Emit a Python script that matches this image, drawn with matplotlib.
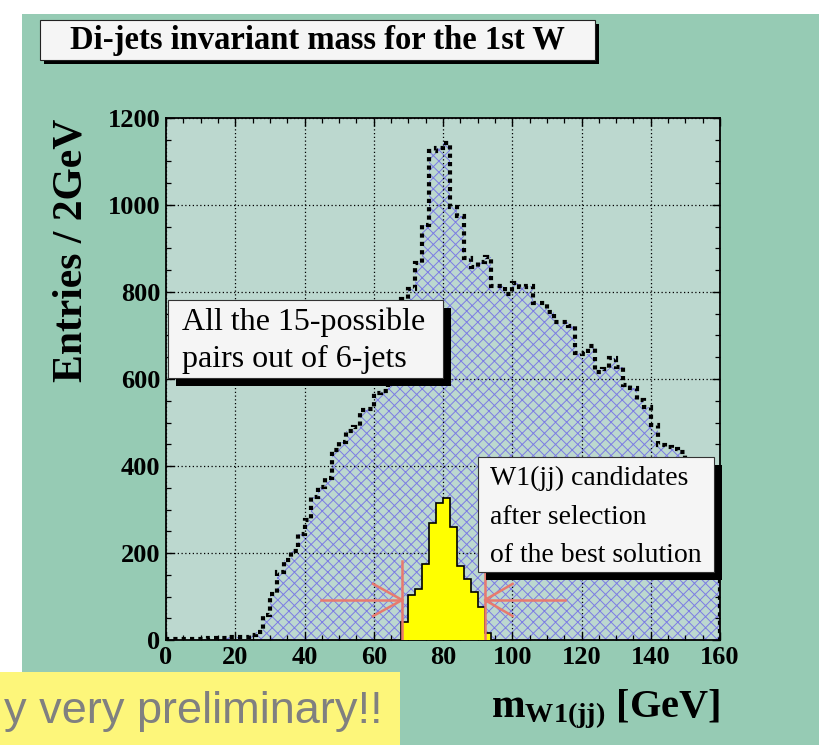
import numpy as np
import matplotlib
matplotlib.use("Agg")
import matplotlib.pyplot as plt
from matplotlib.patches import Rectangle
from matplotlib.ticker import MultipleLocator

# ---------------- data ----------------
bin_edges = np.arange(0, 162, 2)  # 2 GeV bins, 0..160 GeV

all_pairs = [3, 2, 2, 3, 3, 3, 4, 4, 5, 6,
             6, 8, 11, 18, 57, 105, 156, 184, 205, 243,
             276, 328, 352, 373, 437, 456, 481, 490, 529, 530,
             568, 572, 620, 690, 785, 806, 866, 955, 1125, 1130,
             1142, 996, 975, 879, 858, 870, 880, 814, 814, 795,
             821, 812, 814, 774, 774, 753, 732, 732, 722, 659,
             658, 676, 615, 624, 648, 628, 586, 580, 552, 535,
             494, 448, 443, 440, 433, 410, 400, 385, 370, 350]

w1_best = ([0] * 34 +
           [42, 103, 117, 175, 268, 314, 326, 260, 170, 140, 111, 77, 15] +
           [0] * 33)

title = "Di-jets invariant mass for the 1st W"
ylabel = "Entries / 2GeV"
xlabel = r"$\mathbf{m}_{\mathbf{W1(jj)}}$ [GeV]"
note_all = "All the 15-possible\npairs out of 6-jets"
note_w1 = "W1(jj) candidates\nafter selection\nof the best solution"
banner = "y very preliminary!!"

# ---------------- style ----------------
plt.rcParams["font.family"] = ["Liberation Serif", "DejaVu Serif"]
plt.rcParams["mathtext.fontset"] = "custom"
plt.rcParams["mathtext.rm"] = "Liberation Serif"
plt.rcParams["mathtext.bf"] = "Liberation Serif:bold"
plt.rcParams["mathtext.it"] = "Liberation Serif:italic"
plt.rcParams["hatch.linewidth"] = 0.7

W, H = 826, 745
fig = plt.figure(figsize=(W / 100, H / 100), dpi=100)
fig.patch.set_facecolor("white")


def px_rect(x0, y0, x1, y1, **kw):
    r = Rectangle((x0 / W, 1 - y1 / H), (x1 - x0) / W, (y1 - y0) / H,
                  transform=fig.transFigure, **kw)
    fig.add_artist(r)
    return r


# green slide panel
px_rect(22, 14, 819, 745, facecolor="#96CBB4", edgecolor="none", zorder=-2)

ax = fig.add_axes([166 / W, 1 - 640 / H, (720 - 166) / W, (640 - 118) / H])
ax.set_facecolor("#BCD8CF")
ax.set_axisbelow(False)

hatch_col = "#7C7CE4"
ax.stairs(all_pairs, bin_edges, fill=True, facecolor="none",
          edgecolor=hatch_col, hatch="xxx", linewidth=0, zorder=1)

nz = np.nonzero(w1_best)[0]
lo, hi = nz[0], nz[-1] + 1
ax.stairs(w1_best[lo:hi], bin_edges[lo:hi + 1], fill=True,
          facecolor="#FFFF00", edgecolor="black", linewidth=1.2, zorder=3)

ax.stairs(all_pairs, bin_edges, fill=False, edgecolor="black",
          linewidth=3.0, linestyle=(0, (1, 1.0)), zorder=4)

# selection-window arrows
red = "#E87A6E"
lw_r = 1.8
ax.plot([68.2, 68.2], [0, 182], color=red, lw=lw_r, zorder=5)
ax.plot([44.9, 68.2], [92, 92], color=red, lw=lw_r, zorder=5)
ax.plot([59.8, 68.2, 59.8], [129, 92, 55], color=red, lw=lw_r, zorder=5)
ax.plot([92.1, 92.1], [0, 161], color=red, lw=lw_r, zorder=5)
ax.plot([115.2, 92.1], [92, 92], color=red, lw=lw_r, zorder=5)
ax.plot([100.1, 92.1, 100.1], [129, 92, 55], color=red, lw=lw_r, zorder=5)

ax.set_xlim(0, 160)
ax.set_ylim(0, 1200)
ax.xaxis.set_major_locator(MultipleLocator(20))
ax.xaxis.set_minor_locator(MultipleLocator(5))
ax.yaxis.set_major_locator(MultipleLocator(200))
ax.yaxis.set_minor_locator(MultipleLocator(50))
ax.tick_params(which="both", direction="in", top=True, right=True,
               colors="black")
ax.tick_params(which="major", length=6, width=1.0, labelsize=19, pad=4)
ax.tick_params(which="minor", length=3.5, width=0.9)
for lab in ax.get_xticklabels() + ax.get_yticklabels():
    lab.set_fontweight("bold")
ax.grid(True, which="major", color="black", linestyle=(0, (1, 2)),
        linewidth=0.9)
for s in ax.spines.values():
    s.set_linewidth(1.3)

ax.set_xlabel(xlabel, fontsize=29, fontweight="bold")
ax.xaxis.set_label_coords((605 - 166) / 554, (640 - 688) / 522)
ax.set_ylabel(ylabel, fontsize=30, fontweight="bold", va="center")
ax.yaxis.set_label_coords((72 - 166) / 554, (640 - 250) / 522)

# title box
px_rect(44, 24, 599, 64, facecolor="black", edgecolor="none", zorder=5)
px_rect(40, 20, 595, 60, facecolor="#F5F5F5", edgecolor="#222222",
        linewidth=0.8, zorder=6)
fig.text(317 / W, 1 - 41 / H, title, fontsize=23.5, fontweight="bold",
         ha="center", va="center", zorder=7)

# note boxes
px_rect(176, 308, 451, 386, facecolor="black", edgecolor="none", zorder=5)
px_rect(168, 300, 443, 378, facecolor="#F5F5F5", edgecolor="#333333",
        linewidth=0.8, zorder=6)
fig.text(182 / W, 1 - 341 / H, note_all, fontsize=23, ha="left",
         va="center", linespacing=1.37, zorder=7)

px_rect(486, 465, 722, 580, facecolor="black", edgecolor="none", zorder=5)
px_rect(478, 457, 714, 572, facecolor="#F5F5F5", edgecolor="#333333",
        linewidth=0.8, zorder=6)
fig.text(490 / W, 1 - 517 / H, note_w1, fontsize=20, ha="left",
         va="center", linespacing=1.71, zorder=7)

# yellow banner
px_rect(0, 672, 400, 745, facecolor="#FDF67A", edgecolor="none", zorder=5)
fig.text(4 / W, 1 - 712 / H, banner, fontsize=32.5, color="#808080",
         family=["Liberation Sans", "DejaVu Sans"], ha="left", va="center",
         zorder=6)

fig.savefig("out.png", dpi=100, facecolor=fig.get_facecolor())
